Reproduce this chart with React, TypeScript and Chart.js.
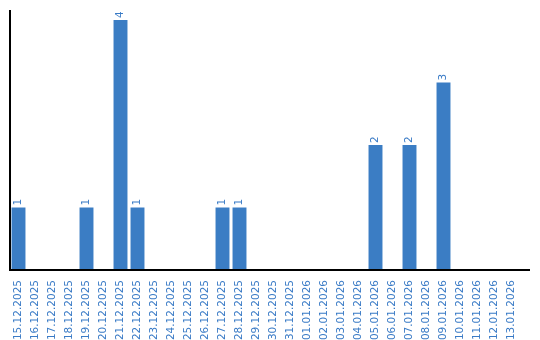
import React, { useEffect, useRef } from "react";
import { Chart, registerables } from "chart.js";

Chart.register(...registerables);

const categories: string[] = [
  "15.12.2025", "16.12.2025", "17.12.2025", "18.12.2025", "19.12.2025",
  "20.12.2025", "21.12.2025", "22.12.2025", "23.12.2025", "24.12.2025",
  "25.12.2025", "26.12.2025", "27.12.2025", "28.12.2025", "29.12.2025",
  "30.12.2025", "31.12.2025", "01.01.2026", "02.01.2026", "03.01.2026",
  "04.01.2026", "05.01.2026", "06.01.2026", "07.01.2026", "08.01.2026",
  "09.01.2026", "10.01.2026", "11.01.2026", "12.01.2026", "13.01.2026",
];

const counts: number[] = [
  1, 0, 0, 0, 1, 0, 4, 1, 0, 0,
  0, 0, 1, 1, 0, 0, 0, 0, 0, 0,
  0, 2, 0, 2, 0, 3, 0, 0, 0, 0,
];

const BAR = "#3b7dc4";
const TEXT = "#3a7bc6";
const FONT = "DejaVu Sans";

const valueLabels = {
  id: "valueLabels",
  afterDatasetsDraw(chart: any) {
    const ctx = chart.ctx;
    const meta = chart.getDatasetMeta(0);
    const data = chart.data.datasets[0].data as number[];
    ctx.save();
    ctx.fillStyle = TEXT;
    ctx.font = `10.5px ${FONT}`;
    ctx.textAlign = "left";
    ctx.textBaseline = "middle";
    meta.data.forEach((bar: any, i: number) => {
      const v = data[i];
      if (!v) return;
      ctx.save();
      ctx.translate(bar.x, bar.y - 2);
      ctx.rotate(-Math.PI / 2);
      ctx.fillText(String(v), 0, 0);
      ctx.restore();
    });
    ctx.restore();
  },
};

const axisLines = {
  id: "axisLines",
  afterDatasetsDraw(chart: any) {
    const { ctx, chartArea } = chart;
    ctx.save();
    ctx.strokeStyle = "#000";
    ctx.lineWidth = 2;
    ctx.beginPath();
    ctx.moveTo(chartArea.left, chartArea.top);
    ctx.lineTo(chartArea.left, chartArea.bottom);
    ctx.lineTo(chartArea.right + 10, chartArea.bottom);
    ctx.stroke();
    ctx.restore();
  },
};

export default function App() {
  const ref = useRef<HTMLCanvasElement>(null);
  useEffect(() => {
    if (!ref.current) return;
    const chart = new Chart(ref.current, {
      type: "bar",
      data: {
        labels: categories,
        datasets: [
          {
            data: counts,
            backgroundColor: BAR,
            borderWidth: 0,
            categoryPercentage: 1,
            barPercentage: 0.82,
          },
        ],
      },
      options: {
        animation: false,
        responsive: false,
        layout: { padding: { left: 10, right: 20, top: 10, bottom: 0 } },
        plugins: { legend: { display: false }, tooltip: { enabled: false } },
        scales: {
          x: {
            grid: { display: false },
            border: { display: false },
            ticks: {
              autoSkip: false,
              maxRotation: 90,
              minRotation: 90,
              color: TEXT,
              font: { family: FONT, size: 10.5 },
              padding: 2,
            },
            afterFit: (s: any) => {
              s.height = 70;
            },
          },
          y: {
            min: 0,
            max: 4.16,
            grid: { display: false },
            border: { display: false },
            ticks: { display: false },
            afterFit: (s: any) => {
              s.width = 0;
            },
          },
        },
      },
      plugins: [valueLabels, axisLines],
    });
    return () => chart.destroy();
  }, []);
  return (
    <div style={{ position: "absolute", left: 0, top: 0, width: 540, height: 340, background: "#fff" }}>
      <canvas ref={ref} width={540} height={340} style={{ width: 540, height: 340 }} />
    </div>
  );
}
